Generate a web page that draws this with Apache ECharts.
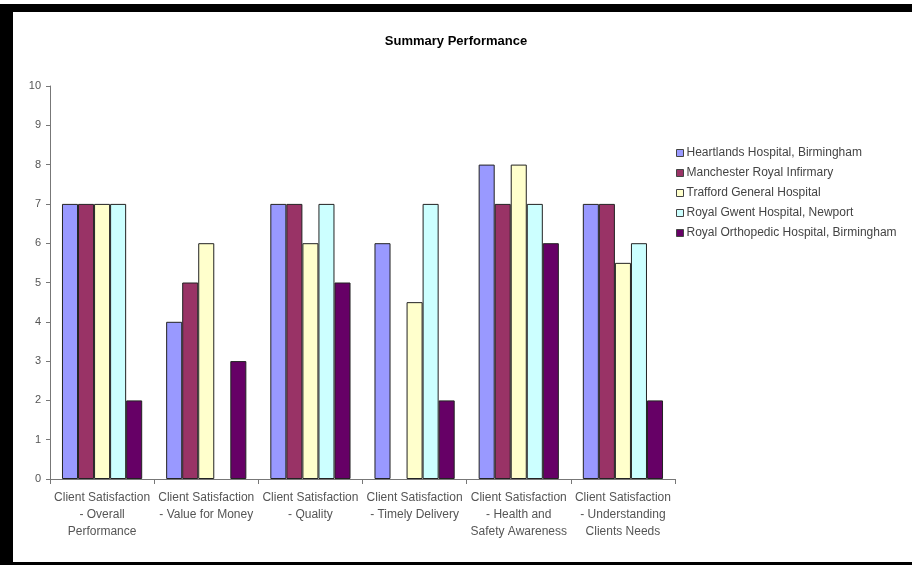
<!DOCTYPE html>
<html>
<head>
<meta charset="utf-8">
<script src="https://cdn.jsdelivr.net/npm/echarts@6/dist/echarts.min.js"></script>
<style>
    html, body { margin: 0; padding: 0; background: #fff; }
    #chart { width: 912px; height: 565px; }
</style>
</head>
<body>
<div id="chart"></div>
<script>
// categories on the x axis
const categories = [
    "Client Satisfaction\n- Overall\nPerformance",
    "Client Satisfaction\n- Value for Money",
    "Client Satisfaction\n- Quality",
    "Client Satisfaction\n- Timely Delivery",
    "Client Satisfaction\n- Health and\nSafety Awareness",
    "Client Satisfaction\n- Understanding\nClients Needs"
];

const hospitals = [
    "Heartlands Hospital, Birmingham",
    "Manchester Royal Infirmary",
    "Trafford General Hospital",
    "Royal Gwent Hospital, Newport",
    "Royal Orthopedic Hospital, Birmingham"
];

// one array per hospital, in category order (null = no bar)
const heartlands = [7, 4, 7, 6, 8, 7];
const manchester = [7, 5, 7, null, 7, 7];
const trafford = [7, 6, 6, 4.5, 8, 5.5];
const royalGwent = [7, null, 7, 7, 7, 6];
const orthopedic = [2, 3, 5, 2, 6, 2];

const yTicks = [0, 10, 1]; // min, max, interval

const colors = ["#9999ff", "#993366", "#ffffcc", "#ccffff", "#660066"];

const getOption = () => {
    const values = [heartlands, manchester, trafford, royalGwent, orthopedic];
    let series = [];
    for (let i = 0; i < hospitals.length; i++) {
        series.push({
            name: hospitals[i],
            type: "bar",
            data: values[i],
            barGap: "0%",
            barCategoryGap: "23%",
            itemStyle: {
                color: colors[i],
                borderColor: "#222",
                borderWidth: 1
            }
        });
    }
    return {
        animation: false,
        backgroundColor: "#fff",
        textStyle: { fontFamily: "Liberation Sans, Arial, sans-serif" },
        title: {
            text: "Summary Performance",
            left: 456,
            top: 35,
            padding: 0,
            textAlign: "center",
            textStyle: { fontSize: 13, fontWeight: "bold", color: "#000" }
        },
        legend: {
            orient: "vertical",
            left: 676,
            top: 147,
            padding: 0,
            itemWidth: 7,
            itemHeight: 7,
            itemGap: 8,
            icon: "rect",
            itemStyle: { borderColor: "#444", borderWidth: 1 },
            textStyle: { fontSize: 12, color: "#444", padding: [0, 0, 0, -2] },
            data: hospitals
        },
        grid: { left: 50, right: 237, top: 86, bottom: 86 },
        xAxis: {
            type: "category",
            data: categories,
            axisLine: { lineStyle: { color: "#777" } },
            axisTick: { show: true, length: 5, lineStyle: { color: "#777" } },
            axisLabel: {
                interval: 0,
                margin: 10,
                fontSize: 12,
                lineHeight: 17,
                color: "#555"
            },
            splitLine: { show: false }
        },
        yAxis: {
            type: "value",
            min: yTicks[0],
            max: yTicks[1],
            interval: yTicks[2],
            axisLine: { show: true, lineStyle: { color: "#777" } },
            axisTick: { show: true, length: 4, lineStyle: { color: "#777" } },
            axisLabel: { fontSize: 11, color: "#555", margin: 9 },
            splitLine: { show: false }
        },
        graphic: [
            // black frame round the picture (no right side)
            { type: "rect", shape: { x: 0, y: 4, width: 912, height: 8 }, style: { fill: "#000" } },
            { type: "rect", shape: { x: 0, y: 4, width: 13, height: 561 }, style: { fill: "#000" } },
            { type: "rect", shape: { x: 0, y: 562, width: 912, height: 3 }, style: { fill: "#000" } }
        ],
        series
    };
};

const chart = echarts.init(document.getElementById("chart"));
chart.setOption(getOption());
</script>
</body>
</html>
